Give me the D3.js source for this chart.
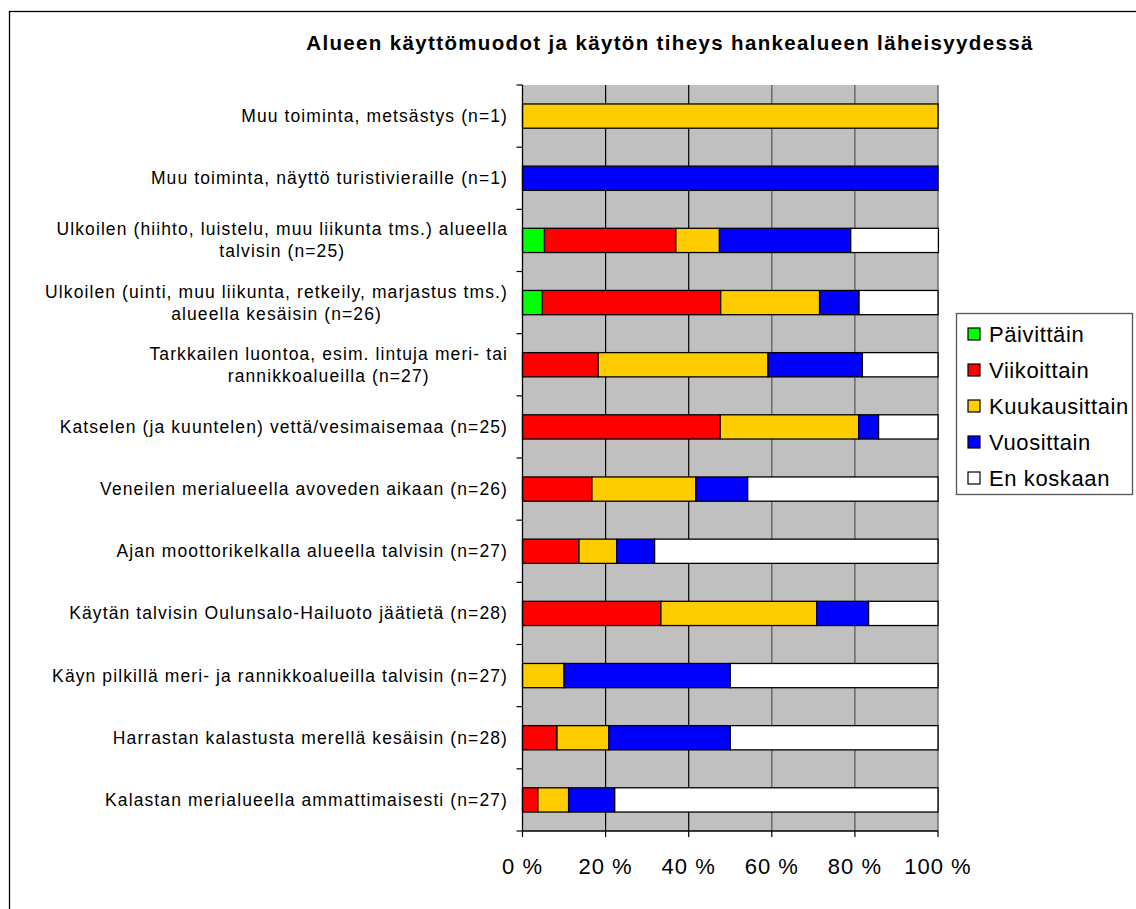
<!DOCTYPE html>
<html>
<head>
<meta charset="utf-8">
<script src="https://cdn.jsdelivr.net/npm/d3@7"></script>
<style>
  body { margin: 0; background: #fff; }
  text { font-family: "Liberation Sans", Arial, sans-serif; fill: #000; }
</style>
</head>
<body>
<div class="main"></div>
<script>
////Data
const categories = [
  'Muu toiminta, metsästys (n=1)',
  'Muu toiminta, näyttö turistivieraille (n=1)',
  'Ulkoilen (hiihto, luistelu, muu liikunta tms.) alueella\ntalvisin (n=25)',
  'Ulkoilen (uinti, muu liikunta, retkeily, marjastus tms.)\nalueella kesäisin (n=26)',
  'Tarkkailen luontoa, esim. lintuja meri- tai\nrannikkoalueilla (n=27)',
  'Katselen (ja kuuntelen) vettä/vesimaisemaa (n=25)',
  'Veneilen merialueella avoveden aikaan (n=26)',
  'Ajan moottorikelkalla alueella talvisin (n=27)',
  'Käytän talvisin Oulunsalo-Hailuoto jäätietä (n=28)',
  'Käyn pilkillä meri- ja rannikkoalueilla talvisin (n=27)',
  'Harrastan kalastusta merellä kesäisin (n=28)',
  'Kalastan merialueella ammattimaisesti (n=27)'
];
const seriesNames = ['Päivittäin', 'Viikoittain', 'Kuukausittain', 'Vuosittain', 'En koskaan'];
const paivittain    = [0, 0, 5.3, 4.8, 0, 0, 0, 0, 0, 0, 0, 0];
const viikoittain   = [0, 0, 31.6, 42.9, 18.2, 47.6, 16.7, 13.6, 33.3, 0, 8.3, 3.7];
const kuukausittain = [100, 0, 10.5, 23.8, 40.9, 33.3, 25, 9.1, 37.5, 10, 12.5, 7.4];
const vuosittain    = [0, 100, 31.6, 9.5, 22.7, 4.8, 12.5, 9.1, 12.5, 40, 29.2, 11.1];
const enKoskaan     = [0, 0, 21.1, 19.0, 18.2, 14.3, 45.8, 68.2, 16.7, 50, 50, 77.8];
const xTicks = [0, 20, 40, 60, 80, 100];
const title = 'Alueen käyttömuodot ja käytön tiheys hankealueen läheisyydessä';

////Globals
const width = 1136;
const height = 909;
const colors = ['#00ff00', '#ff0000', '#ffcc00', '#0000ff', '#ffffff'];
const plot = { left: 522.5, right: 938, top: 85, bottom: 831 };

const svg = d3.select('.main').append('svg')
  .attr('width', width)
  .attr('height', height);

// outer frame (only top + left edges are visible in the picture)
svg.append('rect')
  .attr('x', 9.5).attr('y', 11.5)
  .attr('width', width + 20).attr('height', height + 20)
  .attr('fill', '#fff').attr('stroke', '#000').attr('stroke-width', 1.3);

svg.append('text')
  .attr('x', 670).attr('y', 50)
  .attr('text-anchor', 'middle')
  .style('font-size', '20.5px').style('font-weight', 'bold')
  .style('letter-spacing', '1.35px')
  .text(title);

const table = categories.map((c, i) => ({
  cat: c,
  [seriesNames[0]]: paivittain[i],
  [seriesNames[1]]: viikoittain[i],
  [seriesNames[2]]: kuukausittain[i],
  [seriesNames[3]]: vuosittain[i],
  [seriesNames[4]]: enKoskaan[i]
}));

const x = d3.scaleLinear().domain([0, 100]).range([plot.left, plot.right]);
const y = d3.scaleBand().domain(categories).range([plot.top, plot.bottom])
  .paddingInner(0.61).paddingOuter(0.305);
const color = d3.scaleOrdinal().domain(seriesNames).range(colors);

// plot background
svg.append('rect')
  .attr('x', plot.left).attr('y', plot.top)
  .attr('width', plot.right - plot.left).attr('height', plot.bottom - plot.top)
  .attr('fill', '#c0c0c0');

// vertical grid
svg.append('g')
  .selectAll('line')
  .data(xTicks.slice(1))
  .enter()
  .append('line')
  .attr('x1', d => x(d)).attr('x2', d => x(d))
  .attr('y1', plot.top).attr('y2', plot.bottom)
  .attr('stroke', (d, i) => i < 2 ? '#000' : '#555')
  .attr('stroke-width', 1.2);

// stacked bars
const stacked = d3.stack().keys(seriesNames)(table);
svg.append('g')
  .selectAll('g')
  .data(stacked)
  .enter()
  .append('g')
  .attr('fill', d => color(d.key))
  .selectAll('rect')
  .data(d => d.filter(s => s[1] - s[0] > 0))
  .enter()
  .append('rect')
  .attr('x', d => x(d[0]))
  .attr('y', d => y(d.data.cat))
  .attr('width', d => x(d[1]) - x(d[0]))
  .attr('height', y.bandwidth())
  .attr('stroke', '#000')
  .attr('stroke-width', 1.3);

// y axis: line + ticks at band boundaries
const yAxis = svg.append('g');
yAxis.append('line')
  .attr('x1', plot.left).attr('x2', plot.left)
  .attr('y1', plot.top).attr('y2', plot.bottom)
  .attr('stroke', '#000').attr('stroke-width', 1.3);
yAxis.selectAll('line.tick')
  .data(d3.range(categories.length + 1))
  .enter()
  .append('line')
  .attr('class', 'tick')
  .attr('x1', plot.left - 6).attr('x2', plot.left)
  .attr('y1', i => plot.top + i * y.step())
  .attr('y2', i => plot.top + i * y.step())
  .attr('stroke', '#000').attr('stroke-width', 1.2);

// category labels: text block right-aligned at 508, lines centred inside it
yAxis.selectAll('text')
  .data(categories)
  .enter()
  .append('text')
  .attr('text-anchor', 'middle')
  .style('font-size', '17.5px')
  .style('letter-spacing', '1.1px')
  .each(function(d) {
    const lines = d.split('\n');
    const t = d3.select(this);
    const cy = y(d) + y.bandwidth() / 2;
    const lh = 22;
    const spans = lines.map((l, i) => t.append('tspan')
      .attr('y', cy + 6 + (i - (lines.length - 1) / 2) * lh)
      .text(l));
    const w = d3.max(spans, s => s.node().getComputedTextLength());
    spans.forEach(s => s.attr('x', 508 - w / 2));
  });

// x axis
const xAxis = svg.append('g');
xAxis.append('line')
  .attr('x1', plot.left).attr('x2', plot.right)
  .attr('y1', plot.bottom).attr('y2', plot.bottom)
  .attr('stroke', '#000').attr('stroke-width', 1.3);
xAxis.selectAll('line.tick')
  .data(xTicks)
  .enter()
  .append('line')
  .attr('class', 'tick')
  .attr('x1', d => x(d)).attr('x2', d => x(d))
  .attr('y1', plot.bottom).attr('y2', plot.bottom + 6)
  .attr('stroke', '#000').attr('stroke-width', 1.2);
xAxis.selectAll('text')
  .data(xTicks)
  .enter()
  .append('text')
  .attr('x', d => x(d))
  .attr('y', 874)
  .attr('text-anchor', 'middle')
  .style('font-size', '22px')
  .style('letter-spacing', '1px')
  .text(d => d + ' %');

// legend
const legend = svg.append('g');
legend.append('rect')
  .attr('x', 956.5).attr('y', 313.5)
  .attr('width', 176).attr('height', 181)
  .attr('fill', '#fff').attr('stroke', '#555').attr('stroke-width', 1.3);
const item = legend.selectAll('g')
  .data(seriesNames)
  .enter()
  .append('g')
  .attr('transform', (d, i) => `translate(968, ${334 + i * 36})`);
item.append('rect')
  .attr('x', 0).attr('y', -6)
  .attr('width', 12).attr('height', 12)
  .attr('fill', d => color(d))
  .attr('stroke', '#000').attr('stroke-width', 1.2);
item.append('text')
  .attr('x', 21).attr('y', 8)
  .style('font-size', '22px')
  .style('letter-spacing', '0.6px')
  .text(d => d);
</script>
</body>
</html>
